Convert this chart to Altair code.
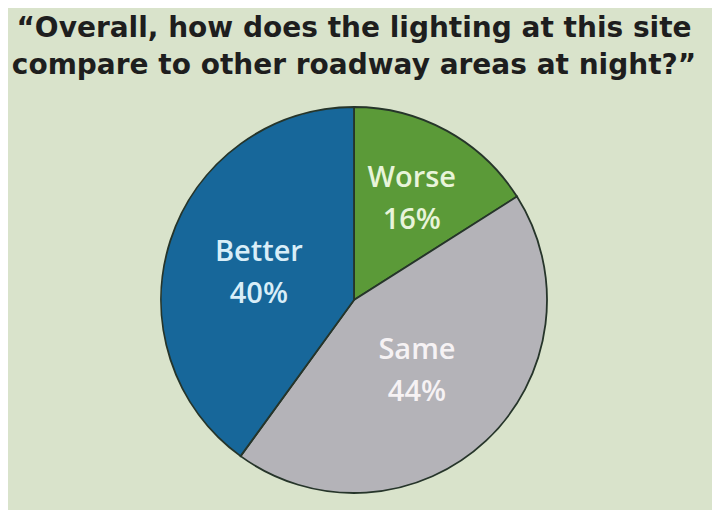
import altair as alt
import pandas as pd

categories = ["Worse", "Same", "Better"]
values = [16, 44, 40]
labels = ["16%", "44%", "40%"]
colors = ["#5b9a38", "#b4b3b8", "#17679a"]
label_colors = ["#e8f4da", "#f6f2f4", "#d9eef8"]

df = pd.DataFrame({
    "cat": categories,
    "val": values,
    "pct": labels,
    "order": [0, 1, 2],
})

theta_scale = alt.Scale(domain=[0, 100])

pie = alt.Chart(df).mark_arc(stroke="#26352a", strokeWidth=1.8).encode(
    theta=alt.Theta("val:Q", stack=True, scale=theta_scale),
    order=alt.Order("order:Q"),
    color=alt.Color("cat:N", scale=alt.Scale(domain=categories, range=colors), legend=None),
    x=alt.value(346),
    y=alt.value(202),
    radius=alt.value(193),
)

text = alt.Chart(df).transform_window(
    cum="sum(val)", sort=[alt.SortField("order")], frame=[None, 0]
).transform_calculate(
    mid="datum.cum - datum.val / 2",
    r="datum.cat == 'Worse' ? 120 : (datum.cat == 'Better' ? 100 : 92)",
    txt="[datum.cat, datum.pct]",
).mark_text(
    font="Open Sans", fontSize=29, fontWeight=600, lineHeight=42, baseline="middle", dy=-17
).encode(
    theta=alt.Theta("mid:Q", stack=None, scale=theta_scale),
    text=alt.Text("txt:N"),
    radius=alt.Radius("r:Q", scale=None),
    color=alt.Color("cat:N", scale=alt.Scale(domain=categories, range=label_colors), legend=None),
    x=alt.value(346),
    y=alt.value(202),
)

chart = alt.layer(pie, text).resolve_scale(color="independent").properties(
    width=704,
    height=412,
    padding={"left": 0, "top": 90, "right": 0, "bottom": 0},
    autosize=alt.AutoSizeParams(type="none"),
    background="#d9e3cb",
    title=alt.TitleParams(
        text=["\u201cOverall, how does the lighting at this site",
              "compare to other roadway areas at night?\u201d"],
        font="DejaVu Sans",
        fontSize=28,
        fontWeight="bold",
        color="#1e1e1e",
        lineHeight=37,
        anchor="middle",
        offset=18,
        dx=-6,
    ),
).configure_view(stroke=None)

chart.save("out.html", embed_options={"renderer": "svg", "actions": False})
